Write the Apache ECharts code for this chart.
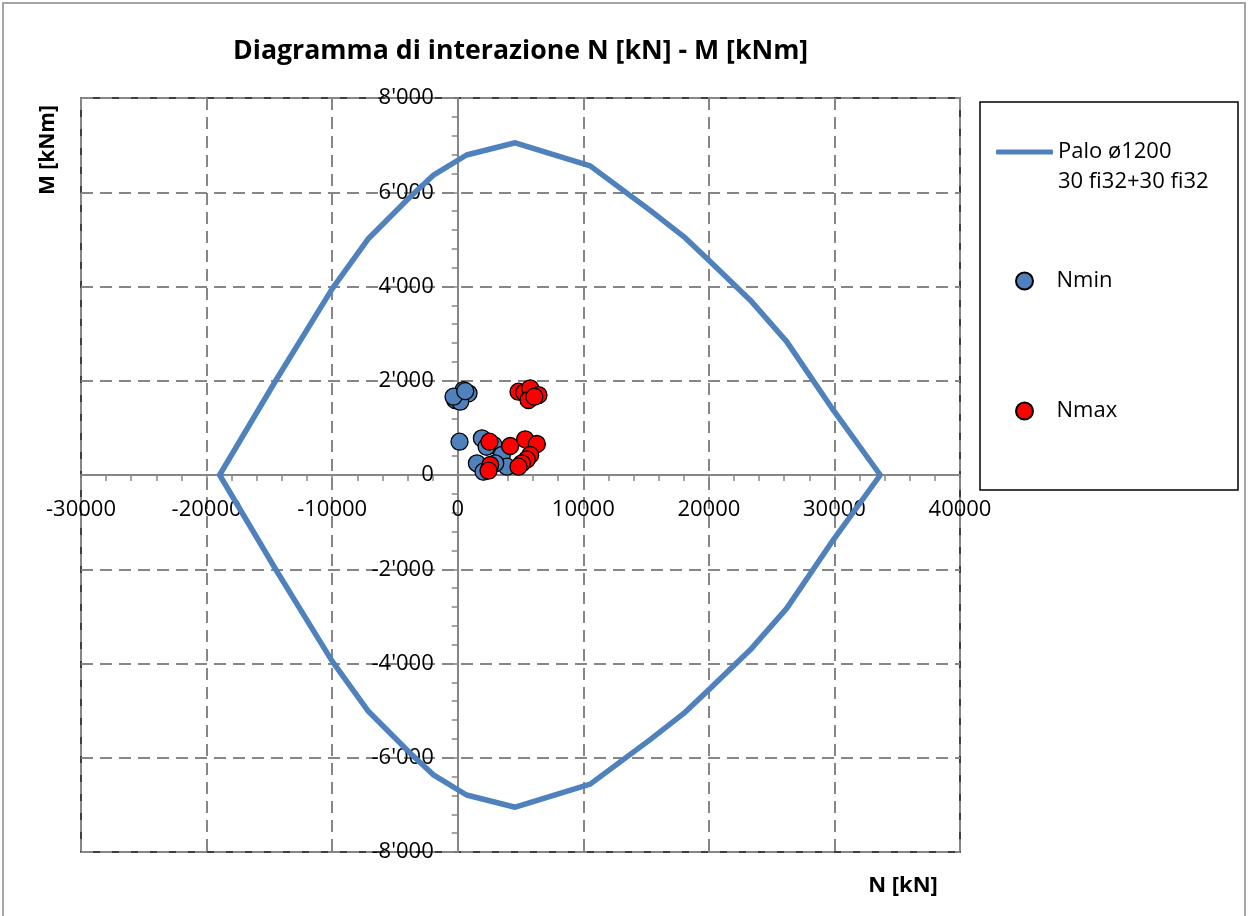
<!DOCTYPE html>
<html>
<head>
<meta charset="utf-8">
<style>
  html, body { margin: 0; padding: 0; background: #fff; }
  #chart { width: 1249px; height: 916px; }
</style>
<script src="https://cdn.jsdelivr.net/npm/echarts@6/dist/echarts.min.js"></script>
</head>
<body>
<div id="chart"></div>
<script>
// Interaction domain of the pile section (N [kN], M [kNm])
const domainN = [-18960, -14500, -10000, -7100, -3800, -1900, 700, 4580, 10550, 15300, 18000, 20100, 23300, 26200, 29900, 33650,
                 29900, 26200, 23300, 20100, 18000, 15300, 10550, 4580, 700, -1900, -3800, -7100, -10000, -14500, -18960];
const domainM = [0, 2000, 3950, 5020, 5900, 6370, 6790, 7050, 6560, 5620, 5060, 4530, 3710, 2830, 1380, 0,
                 -1380, -2830, -3710, -4530, -5060, -5620, -6560, -7050, -6790, -6370, -5900, -5020, -3950, -2000, 0];

// Load combinations giving minimum axial force
const nminN = [462, 860, -199, 199, -334, 600, 143, 1926, 2850, 2300, 3518, 3916, 1528, 2054, 2985];
const nminM = [1803, 1733, 1591, 1556, 1662, 1780, 707, 779, 637, 600, 424, 176, 248, 70, 248];

// Load combinations giving maximum axial force
const nmaxN = [4840, 5300, 5771, 6431, 5637, 6100, 2531, 4179, 5373, 6304, 5771, 5500, 5110, 4840, 2587, 2452];
const nmaxM = [1768, 1750, 1839, 1697, 1591, 1660, 707, 615, 757, 658, 424, 330, 248, 176, 212, 91];

const seriesNames = ['Palo ø1200', 'Nmin', 'Nmax'];
const domainSubtitle = '30 fi32+30 fi32';
const titleText = 'Diagramma di interazione N [kN] - M [kNm]';
const xName = 'N [kN]';
const yName = 'M [kNm]';

const xMin = -30000, xMax = 40000, xStep = 10000;
const yMin = -8000, yMax = 8000, yStep = 2000;

const pairs = (a, b) => a.map((v, i) => [v, b[i]]);
const fmtThousands = v => {
  const s = Math.abs(v).toString().replace(/\B(?=(\d{3})+(?!\d))/g, "'");
  return (v < 0 ? '-' : '') + s;
};

const FONT = '"Open Sans", "DejaVu Sans", sans-serif';
const GRID_GRAY = '#868686';
const BLUE = '#4f81bd';
const RED = '#ff0000';

// plot rectangle
const G = { left: 81, top: 98, width: 879, height: 754 };
// the axes cross at N = 0 and M = 0, inside the plot
const xAxisShift = -(G.height - G.height * (yMax - 0) / (yMax - yMin));
const yAxisShift = -(G.width * (0 - xMin) / (xMax - xMin));

const chart = echarts.init(document.getElementById('chart'), null, { renderer: 'canvas' });

const legendBase = {
  orient: 'vertical',
  padding: 0,
  selectedMode: false,
  textStyle: { fontFamily: FONT, fontSize: 22, color: '#000', lineHeight: 30 }
};

chart.setOption({
  animation: false,
  backgroundColor: '#fff',
  title: {
    text: titleText,
    left: 228,
    top: 33,
    textStyle: { fontFamily: FONT, fontSize: 26.7, fontWeight: 'bold', color: '#000' }
  },
  grid: {
    left: G.left, top: G.top, width: G.width, height: G.height,
    show: true, borderColor: '#000', borderWidth: 1.5, backgroundColor: 'transparent',
    containLabel: false, outerBoundsMode: 'none'
  },
  legend: [
    Object.assign({}, legendBase, {
      data: [seriesNames[0]], left: 996, top: 137,
      icon: 'roundRect', itemWidth: 57, itemHeight: 5,
      itemStyle: { color: BLUE }
    }),
    Object.assign({}, legendBase, {
      data: [seriesNames[1]], left: 1015, top: 266, itemWidth: 54, itemHeight: 17
    }),
    Object.assign({}, legendBase, {
      data: [seriesNames[2]], left: 1015, top: 396, itemWidth: 54, itemHeight: 17
    })
  ],
  xAxis: {
    type: 'value', min: xMin, max: xMax, interval: xStep,
    position: 'bottom', offset: xAxisShift,
    axisLine: { show: true, onZero: false, lineStyle: { color: GRID_GRAY, width: 2 } },
    axisTick: { show: true, length: 6, lineStyle: { color: GRID_GRAY, width: 1.5 } },
    minorTick: { show: true, splitNumber: 5, length: 6, lineStyle: { color: GRID_GRAY, width: 1.5 } },
    axisLabel: { fontFamily: FONT, fontSize: 22, color: '#000', margin: 24, formatter: v => String(v) },
    splitLine: { show: true, lineStyle: { color: GRID_GRAY, width: 2, type: [12, 7] } }
  },
  yAxis: {
    type: 'value', min: yMin, max: yMax, interval: yStep,
    position: 'left', offset: yAxisShift,
    axisLine: { show: true, onZero: false, lineStyle: { color: GRID_GRAY, width: 2 } },
    axisTick: { show: true, length: 6, lineStyle: { color: GRID_GRAY, width: 1.5 } },
    minorTick: { show: true, splitNumber: 5, length: 6, lineStyle: { color: GRID_GRAY, width: 1.5 } },
    axisLabel: { fontFamily: FONT, fontSize: 22, color: '#000', margin: 24, formatter: fmtThousands },
    splitLine: { show: true, lineStyle: { color: GRID_GRAY, width: 2, type: [12, 7] } }
  },
  graphic: [
    {
      type: 'rect', silent: true, z: -10,
      shape: { x: 3, y: 3, width: 1242, height: 960 },
      style: { fill: 'none', stroke: '#a6a6a6', lineWidth: 2 }
    },
    {
      type: 'rect', silent: true,
      shape: { x: 980, y: 102, width: 258, height: 388 },
      style: { fill: 'none', stroke: '#000', lineWidth: 1.5 }
    },
    {
      // second line of the section legend entry (reinforcement)
      type: 'text', silent: true,
      x: 1058, y: 182,
      style: { text: domainSubtitle, fontFamily: FONT, fontSize: 22, fill: '#000', align: 'left', verticalAlign: 'middle' }
    },
    {
      type: 'text', silent: true,
      x: 48, y: 150, rotation: Math.PI / 2,
      style: { text: yName, fontFamily: FONT, fontSize: 21, fontWeight: 'bold', fill: '#000', align: 'center', verticalAlign: 'middle' }
    },
    {
      type: 'text', silent: true,
      x: 903, y: 886,
      style: { text: xName, fontFamily: FONT, fontSize: 22, fontWeight: 'bold', fill: '#000', align: 'center', verticalAlign: 'middle' }
    }
  ],
  series: [
    {
      name: seriesNames[0],
      type: 'line',
      data: pairs(domainN, domainM),
      symbol: 'none',
      showSymbol: false,
      lineStyle: { color: BLUE, width: 5.5, cap: 'round', join: 'round' },
      itemStyle: { color: BLUE },
      z: 2
    },
    {
      name: seriesNames[1],
      type: 'scatter',
      data: pairs(nminN, nminM),
      symbol: 'circle',
      symbolSize: 17,
      itemStyle: { color: BLUE, borderColor: '#000', borderWidth: 1.3, opacity: 1 },
      z: 3
    },
    {
      name: seriesNames[2],
      type: 'scatter',
      data: pairs(nmaxN, nmaxM),
      symbol: 'circle',
      symbolSize: 17,
      itemStyle: { color: RED, borderColor: '#000', borderWidth: 1.3, opacity: 1 },
      z: 4
    }
  ]
});
</script>
</body>
</html>
